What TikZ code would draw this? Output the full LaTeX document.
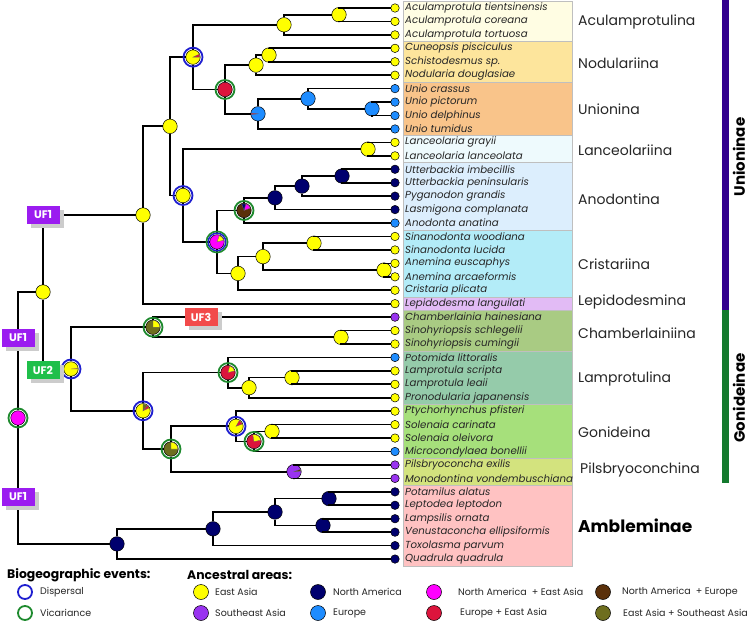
\documentclass[tikz,border=0pt]{standalone}
\usepackage{fontspec}
\setmainfont{Poppins}
\usetikzlibrary{shadows}

\definecolor{ea}{HTML}{FFFF00}
\definecolor{sea}{HTML}{9933F0}
\definecolor{na}{HTML}{00006E}
\definecolor{eu}{HTML}{1E8CFF}
\definecolor{naea}{HTML}{FF00FF}
\definecolor{euea}{HTML}{DC143C}
\definecolor{naeu}{HTML}{5A300A}
\definecolor{easea}{HTML}{6E6E1E}
\definecolor{dispblue}{HTML}{1F1FD0}
\definecolor{vicgreen}{HTML}{1E8A2E}
\definecolor{ufone}{HTML}{9B1CF0}
\definecolor{uftwo}{HTML}{1FBF4A}
\definecolor{ufthree}{HTML}{F24A4A}
\definecolor{unicol}{HTML}{33008F}
\definecolor{goncol}{HTML}{147A2E}

% wedge of a second area inside an ancestral node
\newcommand{\areaslice}[4]{%
  \fill[#4, draw=black!60, line width=0.3pt] (#1.center) -- ++(#2:6.8pt)
    arc[start angle=#2, end angle=#3, radius=6.8pt] -- cycle;}

\begin{document}
\begin{tikzpicture}[x=1pt, y=-1pt,
  branch/.style={line width=1.7pt, black},
  anc/.style={circle, draw=black, line width=0.5pt, minimum size=14.5pt, inner sep=0pt},
  tip/.style={circle, draw=black, line width=0.5pt, minimum size=8.5pt, inner sep=0pt},
  taxon/.style={anchor=west, inner sep=0pt, font=\fontsize{10.2}{11}\selectfont\itshape, text=black!85},
  clade/.style={anchor=west, inner sep=0pt, font=\fontsize{14}{16}\selectfont, text=black!85},
  sub/.style={rotate=90, inner sep=0pt, font=\fontsize{15}{17}\selectfont\bfseries},
  dispring/.style={draw=dispblue, line width=1.8pt},
  vicring/.style={draw=vicgreen, line width=1.8pt},
  uf/.style={fill=#1, text=white, font=\fontsize{11}{12}\selectfont\bfseries,
    minimum width=33pt, minimum height=18pt, inner sep=0pt,
    drop shadow={shadow xshift=4pt, shadow yshift=-4pt, fill=black!20, opacity=1}},
  legtitle/.style={anchor=west, inner sep=0pt, font=\fontsize{12.4}{14}\selectfont\bfseries},
  legtext/.style={anchor=west, inner sep=0pt, font=\fontsize{9.5}{11}\selectfont, text=black!85},
  legdot/.style={circle, draw=black, line width=0.5pt, minimum size=15pt, inner sep=0pt},
  box/.style={draw=black!25, line width=0.4pt}
]
\path[use as bounding box, fill=white] (0,0) rectangle (750,623);

% clade boxes
\fill[box, fill={rgb,255:red,255;green,253;blue,227}] (403,1.5) rectangle (572,41.6);
\fill[box, fill={rgb,255:red,253;green,229;blue,156}] (403,41.6) rectangle (572,81.92);
\fill[box, fill={rgb,255:red,249;green,196;blue,138}] (403,81.92) rectangle (572,135.68);
\fill[box, fill={rgb,255:red,238;green,250;blue,253}] (403,135.68) rectangle (572,162.56);
\fill[box, fill={rgb,255:red,220;green,238;blue,253}] (403,162.56) rectangle (572,229.76);
\fill[box, fill={rgb,255:red,179;green,236;blue,248}] (403,229.76) rectangle (572,296.96);
\fill[box, fill={rgb,255:red,226;green,187;blue,245}] (403,296.96) rectangle (572,310.4);
\fill[box, fill={rgb,255:red,169;green,203;blue,131}] (403,310.4) rectangle (572,350.72);
\fill[box, fill={rgb,255:red,149;green,203;blue,170}] (403,350.72) rectangle (572,404.48);
\fill[box, fill={rgb,255:red,166;green,224;blue,123}] (403,404.48) rectangle (572,458.24);
\fill[box, fill={rgb,255:red,211;green,227;blue,126}] (403,458.24) rectangle (572,485.12);
\fill[box, fill={rgb,255:red,255;green,194;blue,194}] (403,485.12) rectangle (572,565.76);

% tips
\node[tip, fill=ea] (t1) at (395,8.00) {};    \node[taxon] (n1) at (405,8.00) {Aculamprotula tientsinensis};
\node[tip, fill=ea] (t2) at (395,21.44) {};   \node[taxon] (n2) at (405,21.44) {Aculamprotula coreana};
\node[tip, fill=ea] (t3) at (395,34.88) {};   \node[taxon] (n3) at (405,34.88) {Aculamprotula tortuosa};
\node[tip, fill=ea] (t4) at (395,48.32) {};   \node[taxon] (n4) at (405,48.32) {Cuneopsis pisciculus};
\node[tip, fill=ea] (t5) at (395,61.76) {};   \node[taxon] (n5) at (405,61.76) {Schistodesmus sp.};
\node[tip, fill=ea] (t6) at (395,75.20) {};   \node[taxon] (n6) at (405,75.20) {Nodularia douglasiae};
\node[tip, fill=eu] (t7) at (395,88.64) {};   \node[taxon] (n7) at (405,88.64) {Unio crassus};
\node[tip, fill=eu] (t8) at (395,102.08) {};  \node[taxon] (n8) at (405,102.08) {Unio pictorum};
\node[tip, fill=eu] (t9) at (395,115.52) {};  \node[taxon] (n9) at (405,115.52) {Unio delphinus};
\node[tip, fill=eu] (t10) at (395,128.96) {}; \node[taxon] (n10) at (405,128.96) {Unio tumidus};
\node[tip, fill=ea] (t11) at (395,142.40) {}; \node[taxon] (n11) at (405,142.40) {Lanceolaria grayii};
\node[tip, fill=ea] (t12) at (395,155.84) {}; \node[taxon] (n12) at (405,155.84) {Lanceolaria lanceolata};
\node[tip, fill=na] (t13) at (395,169.28) {}; \node[taxon] (n13) at (405,169.28) {Utterbackia imbecillis};
\node[tip, fill=na] (t14) at (395,182.72) {}; \node[taxon] (n14) at (405,182.72) {Utterbackia peninsularis};
\node[tip, fill=na] (t15) at (395,196.16) {}; \node[taxon] (n15) at (405,196.16) {Pyganodon grandis};
\node[tip, fill=na] (t16) at (395,209.60) {}; \node[taxon] (n16) at (405,209.60) {Lasmigona complanata};
\node[tip, fill=eu] (t17) at (395,223.04) {}; \node[taxon] (n17) at (405,223.04) {Anodonta anatina};
\node[tip, fill=ea] (t18) at (395,236.48) {}; \node[taxon] (n18) at (405,236.48) {Sinanodonta woodiana};
\node[tip, fill=ea] (t19) at (395,249.92) {}; \node[taxon] (n19) at (405,249.92) {Sinanodonta lucida};
\node[tip, fill=ea] (t20) at (395,263.36) {}; \node[taxon] (n20) at (405,263.36) {Anemina euscaphys};
\node[tip, fill=ea] (t21) at (395,276.80) {}; \node[taxon] (n21) at (405,276.80) {Anemina arcaeformis};
\node[tip, fill=ea] (t22) at (395,290.24) {}; \node[taxon] (n22) at (405,290.24) {Cristaria plicata};
\node[tip, fill=ea] (t23) at (395,303.68) {}; \node[taxon] (n23) at (405,303.68) {Lepidodesma languilati};
\node[tip, fill=sea] (t24) at (395,317.12) {}; \node[taxon] (n24) at (405,317.12) {Chamberlainia hainesiana};
\node[tip, fill=ea] (t25) at (395,330.56) {}; \node[taxon] (n25) at (405,330.56) {Sinohyriopsis schlegelii};
\node[tip, fill=ea] (t26) at (395,344.00) {}; \node[taxon] (n26) at (405,344.00) {Sinohyriopsis cumingii};
\node[tip, fill=eu] (t27) at (395,357.44) {}; \node[taxon] (n27) at (405,357.44) {Potomida littoralis};
\node[tip, fill=ea] (t28) at (395,370.88) {}; \node[taxon] (n28) at (405,370.88) {Lamprotula scripta};
\node[tip, fill=ea] (t29) at (395,384.32) {}; \node[taxon] (n29) at (405,384.32) {Lamprotula leaii};
\node[tip, fill=ea] (t30) at (395,397.76) {}; \node[taxon] (n30) at (405,397.76) {Pronodularia japanensis};
\node[tip, fill=ea] (t31) at (395,411.20) {}; \node[taxon] (n31) at (405,411.20) {Ptychorhynchus pfisteri};
\node[tip, fill=ea] (t32) at (395,424.64) {}; \node[taxon] (n32) at (405,424.64) {Solenaia carinata};
\node[tip, fill=ea] (t33) at (395,438.08) {}; \node[taxon] (n33) at (405,438.08) {Solenaia oleivora};
\node[tip, fill=eu] (t34) at (395,451.52) {}; \node[taxon] (n34) at (405,451.52) {Microcondylaea bonellii};
\node[tip, fill=sea] (t35) at (395,464.96) {}; \node[taxon] (n35) at (405,464.96) {Pilsbryoconcha exilis};
\node[tip, fill=sea] (t36) at (395,478.40) {}; \node[taxon] (n36) at (405,478.40) {Monodontina vondembuschiana};
\node[tip, fill=na] (t37) at (395,491.84) {}; \node[taxon] (n37) at (405,491.84) {Potamilus alatus};
\node[tip, fill=na] (t38) at (395,505.28) {}; \node[taxon] (n38) at (405,505.28) {Leptodea leptodon};
\node[tip, fill=na] (t39) at (395,518.72) {}; \node[taxon] (n39) at (405,518.72) {Lampsilis ornata};
\node[tip, fill=na] (t40) at (395,532.16) {}; \node[taxon] (n40) at (405,532.16) {Venustaconcha ellipsiformis};
\node[tip, fill=na] (t41) at (395,545.60) {}; \node[taxon] (n41) at (405,545.60) {Toxolasma parvum};
\node[tip, fill=na] (t42) at (395,559.04) {}; \node[taxon] (n42) at (405,559.04) {Quadrula quadrula};

% ancestral nodes
\node[anc, fill=naea] (root) at (18,417.96) {};
\node[anc, fill=ea] (ug) at (43,292) {};
\node[anc, fill=ea] (uni) at (143,215.01) {};
\node[anc, fill=ea] (u1) at (170,126.34) {};
\node[anc, fill=ea] (u2) at (193,57.14) {};
\node[anc, fill=ea] (acu) at (284,24.8) {};
\node[anc, fill=ea] (acu2) at (339,14.72) {};
\node[anc, fill=euea] (nu) at (225,89.48) {};
\node[anc, fill=ea] (nod) at (256,65.12) {};
\node[anc, fill=ea] (nod2) at (269,55.04) {};
\node[anc, fill=eu] (unio) at (258,113.84) {};
\node[anc, fill=eu] (unio2) at (308,98.72) {};
\node[anc, fill=eu] (unio3) at (372,108.8) {};
\node[anc, fill=ea] (u3) at (183,195.53) {};
\node[anc, fill=ea] (lanc) at (368,149.12) {};
\node[anc, fill=naea] (ac) at (217,241.94) {};
\node[anc, fill=naeu] (ano) at (244,210.44) {};
\node[anc, fill=na] (ano2) at (275,197.84) {};
\node[anc, fill=na] (ano3) at (302,186.08) {};
\node[anc, fill=na] (ano4) at (342,176) {};
\node[anc, fill=ea] (cri) at (238,273.44) {};
\node[anc, fill=ea] (cri2) at (263,256.64) {};
\node[anc, fill=ea] (cri3) at (314,243.2) {};
\node[anc, fill=ea] (cri4) at (384,270.08) {};
\node[anc, fill=ea] (gon) at (71,368.99) {};
\node[anc, fill=easea] (cha) at (153,327.2) {};
\node[anc, fill=ea] (cha2) at (341,337.28) {};
\node[anc, fill=ea] (g1) at (143,410.78) {};
\node[anc, fill=euea] (lam) at (228,372.56) {};
\node[anc, fill=ea] (lam2) at (249,387.68) {};
\node[anc, fill=ea] (lam3) at (292,377.6) {};
\node[anc, fill=easea] (g2) at (171,449) {};
\node[anc, fill=ea] (gd) at (236,426.32) {};
\node[anc, fill=euea] (gd2) at (254,441.44) {};
\node[anc, fill=ea] (gd3) at (272,431.36) {};
\node[anc, fill=sea] (pil) at (294,471.68) {};
\node[anc, fill=na] (amb) at (117,543.92) {};
\node[anc, fill=na] (amb2) at (213,528.8) {};
\node[anc, fill=na] (amb3) at (275,512) {};
\node[anc, fill=na] (amb4) at (329,498.56) {};
\node[anc, fill=na] (amb5) at (323,525.44) {};

% branches
\draw[branch] (ug) -| (root) |- (amb);
\draw[branch] (uni) -| (ug) |- (gon);
\draw[branch] (u1) -| (uni) |- (t23);
\draw[branch] (u2) -| (u1) |- (u3);
\draw[branch] (acu) -| (u2) |- (nu);
\draw[branch] (acu2) -| (acu) |- (t3);
\draw[branch] (t1) -| (acu2) |- (t2);
\draw[branch] (nod) -| (nu) |- (unio);
\draw[branch] (nod2) -| (nod) |- (t6);
\draw[branch] (t4) -| (nod2) |- (t5);
\draw[branch] (unio2) -| (unio) |- (t10);
\draw[branch] (t7) -| (unio2) |- (unio3);
\draw[branch] (t8) -| (unio3) |- (t9);
\draw[branch] (lanc) -| (u3) |- (ac);
\draw[branch] (t11) -| (lanc) |- (t12);
\draw[branch] (ano) -| (ac) |- (cri);
\draw[branch] (ano2) -| (ano) |- (t17);
\draw[branch] (ano3) -| (ano2) |- (t16);
\draw[branch] (ano4) -| (ano3) |- (t15);
\draw[branch] (t13) -| (ano4) |- (t14);
\draw[branch] (cri2) -| (cri) |- (t22);
\draw[branch] (cri3) -| (cri2) |- (cri4);
\draw[branch] (t18) -| (cri3) |- (t19);
\draw[branch] (t20) -| (cri4) |- (t21);
\draw[branch] (cha) -| (gon) |- (g1);
\draw[branch] (t24) -| (cha) |- (cha2);
\draw[branch] (t25) -| (cha2) |- (t26);
\draw[branch] (lam) -| (g1) |- (g2);
\draw[branch] (t27) -| (lam) |- (lam2);
\draw[branch] (lam3) -| (lam2) |- (t30);
\draw[branch] (t28) -| (lam3) |- (t29);
\draw[branch] (gd) -| (g2) |- (pil);
\draw[branch] (t31) -| (gd) |- (gd2);
\draw[branch] (gd3) -| (gd2) |- (t34);
\draw[branch] (t32) -| (gd3) |- (t33);
\draw[branch] (t35) -| (pil) |- (t36);
\draw[branch] (amb2) -| (amb) |- (t42);
\draw[branch] (amb3) -| (amb2) |- (t41);
\draw[branch] (amb4) -| (amb3) |- (amb5);
\draw[branch] (t37) -| (amb4) |- (t38);
\draw[branch] (t39) -| (amb5) |- (t40);

% mixed areas
\areaslice{u2}{0}{25}{euea}
\areaslice{unio}{174}{186}{euea}
\areaslice{ac}{15}{70}{ea}
\areaslice{ano}{20}{75}{naea}
\areaslice{ano}{75}{110}{na}
\areaslice{gon}{0}{4}{euea}
\areaslice{cha}{0}{90}{ea}
\areaslice{g1}{50}{90}{easea}
\areaslice{g1}{25}{50}{euea}
\areaslice{lam}{15}{75}{ea}
\areaslice{g2}{0}{90}{ea}
\areaslice{gd}{20}{60}{euea}
\areaslice{gd2}{10}{100}{ea}
\areaslice{pil}{5}{20}{naeu}

% events
\draw[dispring] (u2.center) circle[radius=9.5pt];
\draw[dispring] (u3.center) circle[radius=9.5pt];
\draw[dispring] (gon.center) circle[radius=9.5pt];
\draw[dispring] (g1.center) circle[radius=9.5pt];
\draw[dispring] (gd.center) circle[radius=9.5pt];
\draw[dispring, line width=1.5pt] (ac.center) circle[radius=8.8pt];
\draw[vicring, line width=1.6pt] (ac.center) circle[radius=10.6pt];
\draw[vicring] (root.center) circle[radius=9.5pt];
\draw[vicring] (nu.center) circle[radius=9.5pt];
\draw[vicring] (ano.center) circle[radius=9.5pt];
\draw[vicring] (cha.center) circle[radius=9.5pt];
\draw[vicring] (lam.center) circle[radius=9.5pt];
\draw[vicring] (g2.center) circle[radius=9.5pt];
\draw[vicring] (gd2.center) circle[radius=9.5pt];

% UF labels
\node[uf=ufone] (uf1a) at (43,215) {UF1};
\node[uf=ufone] (uf1b) at (18,338) {UF1};
\node[uf=ufone] (uf1c) at (18,497) {UF1};
\node[uf=uftwo] (uf2) at (43,370) {UF2};
\node[uf=ufthree] (uf3) at (201,317) {UF3};

% clade names
\node[clade] (c1) at (578,22) {Aculamprotulina};
\node[clade] (c2) at (578,63) {Nodulariina};
\node[clade] (c3) at (578,109) {Unionina};
\node[clade] (c4) at (578,150) {Lanceolariina};
\node[clade] (c5) at (578,199) {Anodontina};
\node[clade] (c6) at (578,264) {Cristariina};
\node[clade] (c7) at (578,302) {Lepidodesmina};
\node[clade] (c8) at (578,333) {Chamberlainiina};
\node[clade] (c9) at (578,379) {Lamprotulina};
\node[clade] (c10) at (578,432) {Gonideina};
\node[clade] (c11) at (580,470) {Pilsbryoconchina};
\node[clade, font=\fontsize{17}{19}\selectfont\bfseries, text=black] (c12) at (578,526) {Ambleminae};

% subfamilies
\fill[unicol] (722,0) rectangle (729,310);
\fill[goncol] (722,310) rectangle (729,483);
\node[sub] (s1) at (739,157) {Unioninae};
\node[sub] (s2) at (739,398) {Gonideinae};

% legend
\node[legtitle] (lg1) at (7,575) {Biogeographic events:};
\draw[dispring] (25,592) circle[radius=7pt];
\node[legtext] (d1) at (40,592) {Dispersal};
\draw[vicring] (25,613) circle[radius=7pt];
\node[legtext] (d2) at (40,613) {Vicariance};
\node[legtitle] (lg2) at (187,575) {Ancestral areas:};
\node[legdot, fill=ea] (a1) at (201,592) {};    \node[legtext] (b1) at (215,592) {East Asia};
\node[legdot, fill=sea] (a2) at (201,613) {};   \node[legtext] (b2) at (215,613) {Southeast Asia};
\node[legdot, fill=na] (a3) at (318,592) {};    \node[legtext] (b3) at (333,592) {North America};
\node[legdot, fill=eu] (a4) at (318,613) {};    \node[legtext] (b4) at (333,613) {Europe};
\node[legdot, fill=naea] (a5) at (434,592) {};  \node[legtext] (b5) at (458,592) {North America\ \ + East Asia};
\node[legdot, fill=euea] (a6) at (434,613) {};  \node[legtext] (b6) at (460,613) {Europe + East Asia};
\node[legdot, fill=naeu] (a7) at (603,592) {};  \node[legtext] (b7) at (622,592) {North America\ \ + Europe};
\node[legdot, fill=easea] (a8) at (603,613) {}; \node[legtext] (b8) at (623,613) {East Asia + Southeast Asia};
\end{tikzpicture}
\end{document}
